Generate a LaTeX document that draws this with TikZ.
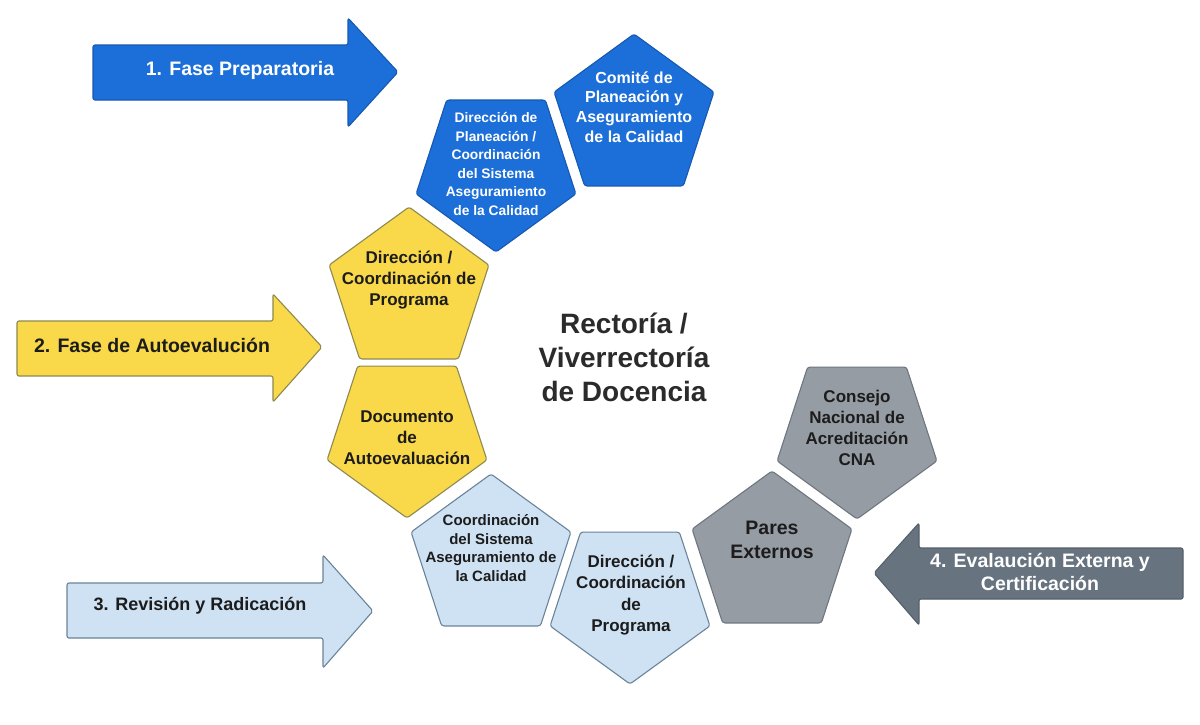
\documentclass[tikz,border=0pt]{standalone}
\usepackage{fontspec}
\setmainfont{Liberation Sans}
\usetikzlibrary{shapes.geometric}
\definecolor{pblue}{HTML}{1C6FD8}
\definecolor{pblueb}{HTML}{1659B2}
\definecolor{pyel}{HTML}{F9D849}
\definecolor{pyelb}{HTML}{8C8A50}
\definecolor{plb}{HTML}{CFE2F3}
\definecolor{plbb}{HTML}{6A8399}
\definecolor{pgray}{HTML}{959CA4}
\definecolor{pgrayb}{HTML}{6E7680}
\definecolor{pslate}{HTML}{67737F}
\definecolor{pslateb}{HTML}{55606B}
\definecolor{txtdark}{HTML}{1C1C1C}
\definecolor{titlegray}{HTML}{2B2B2B}
\begin{document}
\begin{tikzpicture}[x=1pt,y=-1pt,
  pent/.style={regular polygon, regular polygon sides=5, minimum size=168pt,
    inner sep=0pt, outer sep=0pt, line width=1.1pt, rounded corners=2.5pt},
  upent/.style={pent},
  dpent/.style={pent, shape border rotate=180},
  bluep/.style={fill=pblue, draw=pblueb},
  yelp/.style={fill=pyel, draw=pyelb},
  lbp/.style={fill=plb, draw=plbb},
  grayp/.style={fill=pgray, draw=pgrayb},
  ptext/.style={align=center, font=\bfseries},
  arrowbody/.style={line width=1.1pt, rounded corners=2pt},
]
\useasboundingbox (0,0) rectangle (1200,724);
\fill[white] (0,0) rectangle (1200,724);

% ---- arrows ----
\draw[arrowbody, fill=pblue, draw=pblueb]
  (93,45) -- (348,45) -- (348,18) -- (398,72) -- (348,127) -- (348,100) -- (93,100) -- cycle;
\node[ptext, text=white, font=\bfseries\fontsize{19.5}{23}\selectfont] (a1) at (240,70) {1. Fase Preparatoria};

\draw[arrowbody, fill=pyel, draw=pyelb]
  (17,321) -- (273,321) -- (273,294) -- (322,347) -- (273,402) -- (273,376) -- (17,376) -- cycle;
\node[ptext, text=txtdark, font=\bfseries\fontsize{19.5}{23}\selectfont] (a2) at (152,345) {2. Fase de Autoevalución};

\draw[arrowbody, fill=plb, draw=plbb]
  (67,583) -- (323,583) -- (323,555) -- (373,611) -- (323,668) -- (323,638) -- (67,638) -- cycle;
\node[ptext, text=txtdark, font=\bfseries\fontsize{18}{22}\selectfont] (a3) at (200,606) {3. Revisión y Radicación};

\draw[arrowbody, fill=pslate, draw=pslateb]
  (1183,548) -- (919,548) -- (919,523) -- (874,573) -- (919,625) -- (919,599) -- (1183,599) -- cycle;
\node[ptext, text=white, font=\bfseries\fontsize{19.5}{23.5}\selectfont] (a4) at (1040,572) {4. Evalaución Externa y\\Certificación};

% ---- pentagons ----
\node[dpent, bluep] (p1) at (496,168) {};
\node[upent, bluep] (p2) at (634,118) {};
\node[upent, yelp] (p3) at (409,291) {};
\node[dpent, yelp] (p4) at (407,434) {};
\node[upent, lbp] (p5) at (491,558) {};
\node[dpent, lbp] (p6) at (630,600) {};
\node[upent, grayp] (p7) at (772,555) {};
\node[dpent, grayp] (p8) at (857,435) {};

\node[ptext, text=white, font=\bfseries\fontsize{13.8}{18.6}\selectfont] (t1) at (496,164)
  {Dirección de\\Planeación /\\Coordinación\\del Sistema\\Aseguramiento\\de la Calidad};
\node[ptext, text=white, font=\bfseries\fontsize{16}{19.7}\selectfont] (t2) at (634,107)
  {Comité de\\Planeación y\\Aseguramiento\\de la Calidad};
\node[ptext, text=txtdark, font=\bfseries\fontsize{17}{21}\selectfont] (t3) at (409,280)
  {Dirección /\\Coordinación de\\Programa};
\node[ptext, text=txtdark, font=\bfseries\fontsize{17}{21}\selectfont] (t4) at (407,438)
  {Documento\\de\\Autoevaluación};
\node[ptext, text=txtdark, font=\bfseries\fontsize{15}{18.7}\selectfont] (t5) at (491,548)
  {Coordinación\\del Sistema\\Aseguramiento de\\la Calidad};
\node[ptext, text=txtdark, font=\bfseries\fontsize{17}{21.3}\selectfont] (t6) at (631,595)
  {Dirección /\\Coordinación\\de\\Programa};
\node[ptext, text=txtdark, font=\bfseries\fontsize{19.5}{24}\selectfont] (t7) at (772,540)
  {Pares\\Externos};
\node[ptext, text=txtdark, font=\bfseries\fontsize{17}{21}\selectfont] (t8) at (857,428)
  {Consejo\\Nacional de\\Acreditación\\CNA};

% ---- center title ----
\node[ptext, text=titlegray, font=\bfseries\fontsize{28}{34}\selectfont] (title) at (624,357)
  {Rectoría /\\Viverrectoría\\de Docencia};
\end{tikzpicture}
\end{document}
